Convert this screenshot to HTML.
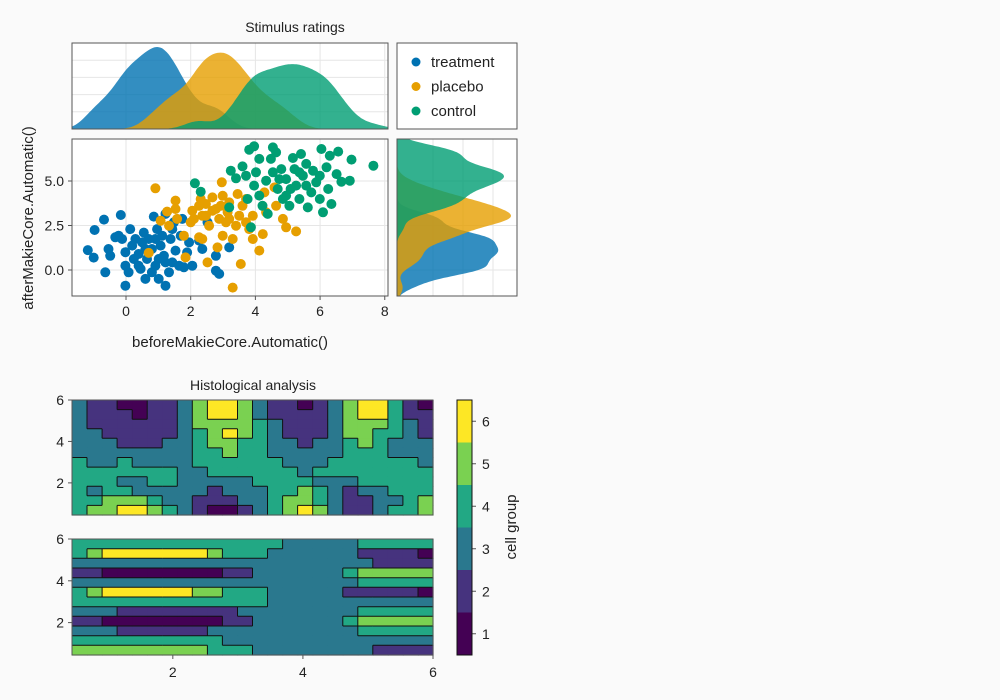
<!DOCTYPE html>
<html><head><meta charset="utf-8"><style>
html,body{margin:0;padding:0;background:#fafafa;}
svg{display:block;font-family:"Liberation Sans","DejaVu Sans",sans-serif;}
</style></head><body>
<svg id="fig" width="1000" height="700" viewBox="0 0 1000 700">
<rect x="0" y="0" width="1000" height="700" fill="#fafafa"/>
</svg>
<script>
// ---------- data ----------
const groups = ["treatment","placebo","control"];
const treatX = [-1.18,-1.0,-0.97,-0.68,-0.64,-0.54,-0.49,-0.33,-0.23,-0.16,-0.02,-0.02,-0.02,0.08,0.13,0.24,0.29,0.39,0.45,0.55,0.6,0.65,0.7,0.8,0.86,0.91,0.96,1.01,1.07,1.12,1.17,1.22,1.22,1.33,1.38,1.43,1.48,1.53,1.64,1.69,1.74,1.79,1.89,1.95,2.05,2.26,2.36,2.52,2.78,2.78,2.88,3.19,0.19,0.5,0.91,0.39,0.8,1.22,-0.12,1.43,1.01,0.6];
const treatY = [1.12,0.7,2.25,2.83,-0.13,1.18,0.8,1.84,1.93,3.09,-0.88,0.24,1.0,-0.13,2.3,0.62,1.74,0.9,0.06,2.1,-0.5,0.62,1.74,1.18,3.0,0.24,2.3,-0.5,1.37,1.93,0.8,3.15,-0.88,-0.13,1.74,0.43,2.68,1.09,0.24,1.93,2.87,0.15,0.99,1.55,0.24,1.65,1.18,2.68,0.8,-0.04,-0.22,1.27,1.37,1.55,1.74,0.24,-0.13,0.43,1.74,2.3,0.62,1.18];
const placX = [0.91,0.7,1.07,1.27,1.33,1.53,1.53,1.58,1.79,1.84,2.05,2.1,2.26,2.31,2.36,2.47,2.52,2.57,2.67,2.67,2.83,2.88,2.93,2.96,2.99,3.09,3.14,3.19,3.3,3.3,3.4,3.45,3.5,3.55,3.6,3.71,3.81,3.92,3.92,4.12,4.23,4.28,4.33,4.59,4.64,4.85,4.95,5.26,2.47,2.78,3.19,2.26,2.0,3.71,2.99,2.36];
const placY = [4.59,0.96,2.77,3.28,2.49,3.9,3.43,2.87,1.93,0.71,3.33,2.87,1.84,3.99,3.05,3.71,0.43,2.49,4.08,3.33,1.27,2.87,3.61,4.93,1.93,2.68,3.24,3.8,1.74,-0.99,2.49,4.27,3.05,0.34,3.61,2.68,2.3,3.05,1.74,1.09,2.02,4.36,3.24,4.64,3.61,2.87,2.4,2.17,3.05,3.43,2.87,3.61,2.68,3.99,4.17,1.74];
const ctrlX = [2.13,2.31,3.19,3.24,3.4,3.6,3.71,3.76,3.81,3.86,3.96,3.96,4.02,4.12,4.22,4.33,4.38,4.48,4.54,4.64,4.69,4.8,4.85,4.95,5.05,5.16,5.21,5.26,5.36,5.41,5.47,5.57,5.62,5.73,5.78,5.88,5.99,6.04,6.09,6.2,6.25,6.3,6.35,6.51,6.56,6.66,6.92,6.97,7.65,4.12,4.74,5.09,5.57,4.54,5.99,5.36,4.95];
const ctrlY = [4.87,4.4,3.52,5.58,5.15,5.82,5.3,3.99,6.76,2.4,6.95,4.74,5.49,4.18,3.61,5.02,3.15,6.24,6.89,6.61,4.55,5.67,3.99,5.11,3.61,6.29,5.67,4.74,3.99,6.52,5.3,5.96,3.52,4.36,5.58,4.93,3.99,6.8,3.24,5.77,4.55,6.42,3.71,5.39,6.65,4.96,5.02,6.2,5.86,6.24,5.11,4.55,4.74,5.49,5.3,5.49,4.18];
const scatterXTicks = [0,2,4,6,8];
const scatterYTicks = [0,2.5,5];
const scatterYTickLabels = ["0.0","2.5","5.0"];
const contourTop = [
[3,2,2,1,1,2,2,3,5,6,6,5,3,2,2,1,2,3,5,6,6,4,2,1],
[3,2,2,2,1,2,2,3,5,6,6,5,3,2,2,2,2,3,5,6,6,4,2,2],
[3,2,2,2,2,2,2,3,5,5,5,5,4,3,2,2,2,3,5,5,5,4,3,2],
[3,3,2,2,2,2,2,3,4,5,6,5,4,3,2,2,2,3,5,5,4,4,3,2],
[3,3,3,2,2,2,3,3,4,5,5,4,4,3,3,2,3,3,4,5,4,3,3,3],
[3,3,3,3,3,3,3,3,4,4,5,4,4,3,3,3,3,3,4,4,4,3,3,3],
[4,3,3,4,3,3,3,3,4,4,4,4,4,4,3,3,3,4,4,4,4,4,4,3],
[4,4,4,4,4,4,4,3,3,4,4,4,4,4,4,3,4,4,4,4,4,4,4,4],
[4,4,4,3,3,4,4,3,3,3,3,3,4,4,4,4,3,3,3,4,4,4,4,4],
[4,3,4,4,3,3,3,3,3,2,3,3,3,4,4,5,4,3,2,3,3,4,4,4],
[4,4,5,5,5,4,3,3,2,2,2,3,3,4,5,5,4,3,2,2,3,3,4,5],
[4,5,5,6,6,5,4,3,2,1,1,2,3,4,5,6,5,3,2,2,3,4,4,5]];
const contourBottom = [
[4,4,4,4,4,4,4,4,4,4,4,4,4,4,3,3,3,3,3,4,4,4,4,4],
[4,5,6,6,6,6,6,6,6,5,4,4,4,3,3,3,3,3,3,2,2,2,2,1],
[3,3,3,3,3,3,3,3,3,3,3,3,3,3,3,3,3,3,3,3,2,2,2,2],
[2,2,1,1,1,1,1,1,1,1,2,2,3,3,3,3,3,3,4,5,5,5,5,5],
[3,3,3,3,3,3,3,3,3,3,3,3,3,3,3,3,3,3,3,4,4,4,4,4],
[4,5,6,6,6,6,6,6,5,5,4,4,4,3,3,3,3,3,2,2,2,2,2,1],
[4,4,4,4,4,4,4,4,4,4,4,4,4,3,3,3,3,3,3,3,3,3,3,3],
[3,3,3,2,2,2,2,2,2,2,2,3,3,3,3,3,3,3,3,4,4,4,4,4],
[2,2,1,1,1,1,1,1,1,1,2,2,3,3,3,3,3,3,4,5,5,5,5,5],
[3,3,3,2,2,2,2,2,2,3,3,3,3,3,3,3,3,3,3,4,4,4,4,4],
[4,4,4,4,4,4,4,4,4,4,3,3,3,3,3,3,3,3,3,3,3,3,3,3],
[5,5,5,5,5,5,5,5,5,4,4,4,3,3,3,3,3,3,3,3,2,2,2,2]];
const contourTicks = [2,4,6];
const colorbarLevels = [1,2,3,4,5,6];

// ---------- helpers ----------
const svg = document.getElementById('fig');
const NS = "http://www.w3.org/2000/svg";
function mk(tag, attrs, parent){const e=document.createElementNS(NS,tag);for(const k in attrs)e.setAttribute(k,attrs[k]);(parent||svg).appendChild(e);return e;}
const COLORS = ["#0072b2","#e69f00","#009e73"];
const VIR = ["#440154","#46337e","#2a788e","#22a884","#7ad151","#fde725"];
const GRID = "#e6e6e6", SPINE="#555";

const SX = {l:72,r:388,t:139,b:296, x0:-1.67,x1:8.1, y0:-1.46,y1:7.36};
const sx = v => SX.l + (v-SX.x0)/(SX.x1-SX.x0)*(SX.r-SX.l);
const sy = v => SX.b - (v-SX.y0)/(SX.y1-SX.y0)*(SX.b-SX.t);

let t=mk('text',{x:295,y:32,'text-anchor':'middle','font-size':14,fill:'#222'});t.textContent="Stimulus ratings";



// ---- top density axis ----
const TD={l:72,r:388,t:43,b:129};
let r=mk('rect',{x:TD.l,y:TD.t,width:TD.r-TD.l,height:TD.b-TD.t,fill:'#fff'});


scatterXTicks.forEach(v=>{const l=mk('line',{x1:sx(v),x2:sx(v),y1:TD.t,y2:TD.b,stroke:GRID});});
[0.2,0.4,0.6,0.8].forEach(f=>{const y=TD.b-f*(TD.b-TD.t);const l=mk('line',{x1:TD.l,x2:TD.r,y1:y,y2:y,stroke:GRID});});

// ---- right density axis ----
const RD={l:397,r:517,t:139,b:296};
r=mk('rect',{x:RD.l,y:RD.t,width:RD.r-RD.l,height:RD.b-RD.t,fill:'#fff'});


scatterYTicks.forEach(v=>{const l=mk('line',{x1:RD.l,x2:RD.r,y1:sy(v),y2:sy(v),stroke:GRID});});
[0.3,0.55,0.8].forEach(f=>{const x=RD.l+f*(RD.r-RD.l);const l=mk('line',{x1:x,x2:x,y1:RD.t,y2:RD.b,stroke:GRID});});

function kde(arr, g){const n=arr.length;const m=arr.reduce((a,b)=>a+b,0)/n;const sd=Math.sqrt(arr.reduce((a,b)=>a+(b-m)*(b-m),0)/(n-1));const h=1.06*sd*Math.pow(n,-0.2)*0.7;return g.map(x=>arr.reduce((s,v)=>s+Math.exp(-0.5*((x-v)/h)**2),0)/(n*h*Math.sqrt(2*Math.PI)));}
const xs=[treatX,placX,ctrlX], ys=[treatY,placY,ctrlY];
const gx=[],gy=[];for(let i=0;i<=200;i++){gx.push(SX.x0+(SX.x1-SX.x0)*i/200);gy.push(SX.y0+(SX.y1-SX.y0)*i/200);}
const dX=xs.map(a=>kde(a,gx)), dY=ys.map(a=>kde(a,gy));
const mX=Math.max(...dX.flat()), mY=Math.max(...dY.flat());
dX.forEach((d,k)=>{let p=`M${sx(gx[0])},${TD.b}`;d.forEach((v,i)=>{p+=`L${sx(gx[i]).toFixed(1)},${(TD.b-v/mX*82).toFixed(1)}`;});p+=`L${sx(gx[200])},${TD.b}Z`;
 const e=mk('path',{d:p,fill:COLORS[k],'fill-opacity':0.8});});
dY.forEach((d,k)=>{let p=`M${RD.l},${sy(gy[0])}`;d.forEach((v,i)=>{p+=`L${(RD.l+v/mY*114).toFixed(1)},${sy(gy[i]).toFixed(1)}`;});p+=`L${RD.l},${sy(gy[200])}Z`;
 const e=mk('path',{d:p,fill:COLORS[k],'fill-opacity':0.8});});
r=mk('rect',{x:TD.l,y:TD.t,width:TD.r-TD.l,height:TD.b-TD.t,fill:'none',stroke:SPINE});

r=mk('rect',{x:RD.l,y:RD.t,width:RD.r-RD.l,height:RD.b-RD.t,fill:'none',stroke:SPINE});


// ---- legend ----
r=mk('rect',{x:397,y:43,width:120,height:86,fill:'#fff',stroke:SPINE});

groups.forEach((g,k)=>{const y=62+k*24.5;
 const c=mk('circle',{cx:416,cy:y,r:4.5,fill:COLORS[k]});
 const tx=mk('text',{x:431,y:y+5,'font-size':15,fill:'#222'});tx.textContent=g;});

// ---- scatter ----
r=mk('rect',{x:SX.l,y:SX.t,width:SX.r-SX.l,height:SX.b-SX.t,fill:'#fff'});

scatterXTicks.forEach(v=>{const l=mk('line',{x1:sx(v),x2:sx(v),y1:SX.t,y2:SX.b,stroke:GRID});
 const tk=mk('line',{x1:sx(v),x2:sx(v),y1:SX.b,y2:SX.b+4,stroke:SPINE});
 const tx=mk('text',{x:sx(v),y:SX.b+20,'text-anchor':'middle','font-size':14,fill:'#222'});tx.textContent=String(v);});
scatterYTicks.forEach((v,i)=>{const l=mk('line',{x1:SX.l,x2:SX.r,y1:sy(v),y2:sy(v),stroke:GRID});
 const tk=mk('line',{x1:SX.l-4,x2:SX.l,y1:sy(v),y2:sy(v),stroke:SPINE});
 const tx=mk('text',{x:SX.l-8,y:sy(v)+5,'text-anchor':'end','font-size':14,fill:'#222'});tx.textContent=scatterYTickLabels[i];});
xs.forEach((arr,k)=>{arr.forEach((v,i)=>{const c=mk('circle',{cx:sx(v).toFixed(1),cy:sy(ys[k][i]).toFixed(1),r:5,fill:COLORS[k]});
 
 });});
r=mk('rect',{x:SX.l,y:SX.t,width:SX.r-SX.l,height:SX.b-SX.t,fill:'none',stroke:SPINE});

t=mk('text',{x:230,y:347,'text-anchor':'middle','font-size':15,fill:'#222'});t.textContent="beforeMakieCore.Automatic()";

t=mk('text',{x:0,y:0,'text-anchor':'middle','font-size':15,fill:'#222',transform:'translate(33,218) rotate(-90)'});t.textContent="afterMakieCore.Automatic()";


// ---- contour heatmaps ----
t=mk('text',{x:253,y:390,'text-anchor':'middle','font-size':14,fill:'#222'});t.textContent="Histological analysis";

const C0=0.45,C1=6;
function contour(grid, box, name, showX){
 const cx=v=>box.l+(v-C0)/(C1-C0)*(box.r-box.l), cy=v=>box.b-(v-C0)/(C1-C0)*(box.b-box.t);
 const rows=grid.length, cols=grid[0].length, cw=(box.r-box.l)/cols, ch=(box.b-box.t)/rows;
 grid.forEach((row,i)=>row.forEach((lv,j)=>{const e=mk('rect',{x:(box.l+j*cw).toFixed(2),y:(box.t+i*ch).toFixed(2),width:(cw+0.6).toFixed(2),height:(ch+0.6).toFixed(2),fill:VIR[lv-1]});
  
  }));
 let p="";
 grid.forEach((row,i)=>row.forEach((lv,j)=>{const x=box.l+j*cw,y=box.t+i*ch;
  if(j<cols-1&&row[j+1]!==lv)p+=`M${(x+cw).toFixed(1)},${y.toFixed(1)}V${(y+ch).toFixed(1)}`;
  if(i<rows-1&&grid[i+1][j]!==lv)p+=`M${x.toFixed(1)},${(y+ch).toFixed(1)}H${(x+cw).toFixed(1)}`;}));
 const e=mk('path',{d:p,stroke:'#111','stroke-width':1,fill:'none'});
 const f=mk('rect',{x:box.l,y:box.t,width:box.r-box.l,height:box.b-box.t,fill:'none',stroke:SPINE});
 contourTicks.forEach(v=>{const tk=mk('line',{x1:box.l-4,x2:box.l,y1:cy(v),y2:cy(v),stroke:SPINE});
  const tx=mk('text',{x:box.l-8,y:cy(v)+5,'text-anchor':'end','font-size':14,fill:'#222'});tx.textContent=String(v);
  if(showX){const k2=mk('line',{x1:cx(v),x2:cx(v),y1:box.b,y2:box.b+4,stroke:SPINE});
   const t2=mk('text',{x:cx(v),y:box.b+22,'text-anchor':'middle','font-size':14,fill:'#222'});t2.textContent=String(v);}});
}
contour(contourTop,{l:72,r:433,t:400,b:515},'contour-top',false);
contour(contourBottom,{l:72,r:433,t:539,b:655},'contour-bottom',true);

// ---- colorbar ----
const CB={l:457,r:472,t:400,b:655};
const cby=v=>CB.b-(v-0.5)/6*(CB.b-CB.t);
colorbarLevels.forEach((lv,i)=>{const e=mk('rect',{x:CB.l,y:cby(lv+0.5),width:CB.r-CB.l,height:cby(lv-0.5)-cby(lv+0.5),fill:VIR[i]});
 
 
 const tk=mk('line',{x1:CB.r,x2:CB.r+4,y1:cby(lv),y2:cby(lv),stroke:SPINE});
 const tx=mk('text',{x:CB.r+10,y:cby(lv)+5,'font-size':14,fill:'#222'});tx.textContent=String(lv);});
r=mk('rect',{x:CB.l,y:CB.t,width:CB.r-CB.l,height:CB.b-CB.t,fill:'none',stroke:'#111'});

t=mk('text',{x:0,y:0,'text-anchor':'middle','font-size':15,fill:'#222',transform:'translate(516,527) rotate(-90)'});t.textContent="cell group";

</script>
</body></html>
